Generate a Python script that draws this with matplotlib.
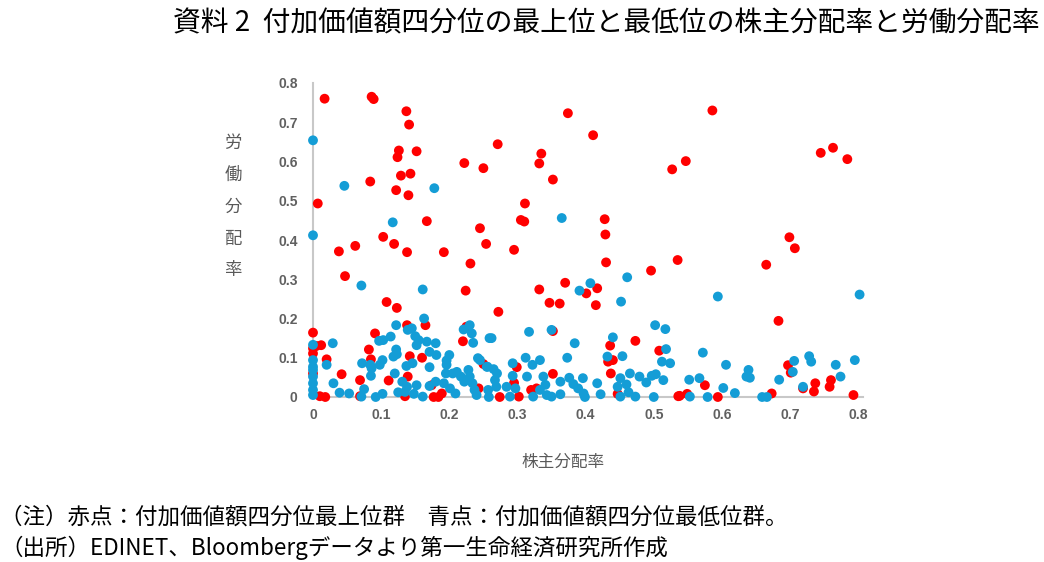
import matplotlib
matplotlib.use("Agg")
import matplotlib.pyplot as plt

# 株主分配率 (x), 労働分配率 (y)
red_x = [0.017,0.086,0.089,0.137,0.141,0.126,0.124,0.152,0.222,0.250,0.084,0.129,0.143,0.122,0.140,0.007,0.167,0.245,0.103,
         0.374,0.411,0.271,0.335,0.332,0.527,0.352,0.311,0.305,0.310,0.428,0.429,
         0.586,0.547,0.745,0.763,0.784,0.699,
         0.119,0.062,0.038,0.138,0.192,0.254,0.231,0.047,0.224,0.108,0.123,0.138,0.165,0.225,0.000,0.220,0.091,0.012,0.005,0.000,0.000,0.020,0.082,0.085,0.142,0.160,0.042,0.069,0.111,0.139,0.250,0.000,0.010,0.018,0.069,0.135,0.177,0.184,0.189,0.174,0.243,
         0.295,0.430,0.535,0.496,0.370,0.332,0.401,0.417,0.347,0.362,0.415,0.272,0.352,0.473,0.436,0.508,0.433,0.440,0.437,0.352,0.299,0.295,0.320,0.328,0.302,0.274,0.447,0.536,
         0.707,0.665,0.683,0.575,0.538,0.549,0.594,0.673,0.697,0.701,0.719,0.737,0.735,0.758,0.760,0.793]
red_y = [0.760,0.765,0.759,0.728,0.694,0.628,0.611,0.626,0.596,0.583,0.549,0.564,0.569,0.527,0.514,0.493,0.448,0.430,0.408,
         0.723,0.667,0.644,0.620,0.595,0.580,0.554,0.493,0.451,0.447,0.453,0.414,
         0.730,0.601,0.622,0.635,0.606,0.407,
         0.390,0.385,0.371,0.369,0.369,0.390,0.340,0.308,0.271,0.242,0.227,0.183,0.183,0.179,0.164,0.142,0.162,0.132,0.130,0.124,0.111,0.096,0.121,0.096,0.104,0.100,0.058,0.043,0.042,0.052,0.084,0.060,0.002,0.000,0.002,0.002,0.000,0.000,0.009,0.030,0.022,
         0.375,0.343,0.349,0.322,0.291,0.274,0.264,0.277,0.240,0.238,0.234,0.217,0.168,0.143,0.131,0.118,0.090,0.094,0.060,0.059,0.076,0.036,0.018,0.022,0.001,0.000,0.008,0.002,
         0.379,0.337,0.194,0.030,0.003,0.008,0.000,0.009,0.081,0.062,0.022,0.035,0.014,0.026,0.043,0.005]

blue_x = [0.000,0.046,0.178,0.117,0.000,0.365,
          0.071,0.161,0.163,0.122,0.139,0.145,0.150,0.155,0.114,0.097,0.103,0.029,0.000,0.167,0.152,0.180,0.122,0.123,0.118,0.171,0.181,0.200,0.196,0.196,
          0.000,0.000,0.000,0.000,0.000,0.000,0.000,
          0.020,0.072,0.084,0.086,0.085,0.098,0.102,0.137,0.146,0.171,0.120,0.131,0.030,0.039,0.053,0.075,0.071,0.092,0.102,0.125,0.135,0.138,0.152,0.148,0.161,0.171,0.180,0.192,0.201,0.209,
          0.195,0.205,0.211,0.217,0.222,0.228,0.230,0.234,0.237,0.240,
          0.221,0.230,0.233,0.235,0.242,0.256,0.259,0.258,
          0.461,0.407,0.391,0.452,0.502,0.517,0.262,0.317,0.350,0.384,0.440,0.518,0.373,0.312,0.322,0.333,0.432,0.454,0.512,0.524,
          0.245,0.255,0.265,0.270,0.267,0.269,0.257,
          0.293,0.293,0.284,0.297,0.289,
          0.314,0.338,0.341,0.333,0.323,0.343,0.350,0.363,0.363,
          0.376,0.382,0.389,0.397,0.399,0.396,0.417,0.422,
          0.451,0.447,0.460,0.465,0.451,0.463,0.473,
          0.479,0.489,0.497,0.503,0.514,0.500,
          0.594,0.802,0.572,0.606,0.552,0.567,0.553,0.579,0.602,0.619,0.636,0.641,0.639,0.659,0.666,0.684,0.706,0.704,0.719,0.728,0.731,0.767,0.774,0.795]
blue_y = [0.654,0.538,0.532,0.445,0.412,0.456,
          0.284,0.274,0.200,0.183,0.171,0.175,0.155,0.145,0.154,0.143,0.145,0.137,0.133,0.141,0.132,0.137,0.121,0.109,0.103,0.115,0.107,0.107,0.093,0.082,
          0.094,0.077,0.069,0.052,0.035,0.018,0.005,
          0.082,0.086,0.082,0.073,0.054,0.082,0.094,0.079,0.086,0.076,0.060,0.039,0.035,0.011,0.009,0.020,0.001,0.000,0.008,0.012,0.013,0.026,0.030,0.008,0.001,0.028,0.039,0.035,0.022,0.009,
          0.060,0.060,0.064,0.052,0.039,0.069,0.052,0.035,0.018,0.005,
          0.172,0.183,0.162,0.138,0.099,0.077,0.150,0.000,
          0.305,0.290,0.271,0.243,0.183,0.173,0.150,0.166,0.171,0.137,0.152,0.122,0.100,0.100,0.082,0.094,0.103,0.104,0.090,0.086,
          0.094,0.077,0.071,0.060,0.043,0.026,0.018,
          0.086,0.054,0.026,0.022,0.001,
          0.052,0.052,0.031,0.018,0.001,0.005,0.001,0.007,0.039,
          0.049,0.033,0.022,0.009,0.000,0.048,0.035,0.007,
          0.048,0.026,0.032,0.060,0.001,0.012,0.001,
          0.052,0.037,0.054,0.058,0.043,0.000,
          0.256,0.261,0.113,0.082,0.044,0.048,0.001,0.000,0.023,0.010,0.052,0.049,0.069,0.000,0.000,0.044,0.092,0.064,0.026,0.104,0.090,0.082,0.052,0.094]

x_ticks = [0, 0.1, 0.2, 0.3, 0.4, 0.5, 0.6, 0.7, 0.8]
x_ticklabels = ["0", "0.1", "0.2", "0.3", "0.4", "0.5", "0.6", "0.7", "0.8"]
y_ticks = [0, 0.1, 0.2, 0.3, 0.4, 0.5, 0.6, 0.7, 0.8]
y_ticklabels = ["0", "0.1", "0.2", "0.3", "0.4", "0.5", "0.6", "0.7", "0.8"]

title = "資料 2  付加価値額四分位の最上位と最低位の株主分配率と労働分配率"
xlabel = "株主分配率"
ylabel = "労働分配率"
note1 = "（注）赤点：付加価値額四分位最上位群　青点：付加価値額四分位最低位群。"
note2 = "（出所）EDINET、Bloombergデータより第一生命経済研究所作成"

plt.rcParams['font.family'] = ['Noto Sans CJK JP', 'DejaVu Sans']

W, H = 1044, 562
fig = plt.figure(figsize=(W/100, H/100), dpi=100)
ax = fig.add_axes([313/W, 1-397/H, (863-313)/W, (397-83)/H])

ax.scatter(red_x, red_y, s=50, color='#FF0000', edgecolors='none', zorder=3, clip_on=False)
ax.scatter(blue_x, blue_y, s=50, color='#149DD6', edgecolors='none', zorder=4, clip_on=False)

ax.set_xlim(0, 0.807)
ax.set_ylim(0, 0.8)
ax.set_xticks(x_ticks)
ax.set_xticklabels(x_ticklabels)
ax.set_yticks(y_ticks)
ax.set_yticklabels(y_ticklabels)
for lab in ax.get_xticklabels() + ax.get_yticklabels():
    lab.set_family(['Liberation Sans', 'DejaVu Sans'])
    lab.set_fontweight('bold')
    lab.set_color('#606060')
    lab.set_fontsize(10)
ax.tick_params(axis='both', length=0)
ax.tick_params(axis='y', pad=11)
ax.tick_params(axis='x', pad=8)
for s in ['top', 'right']:
    ax.spines[s].set_visible(False)
for s in ['left', 'bottom']:
    ax.spines[s].set_color('#C8C8C8')
    ax.spines[s].set_linewidth(1.5)

fig.text(1040/W, 1-23/H, title, fontsize=20, ha='right', va='center', color='black')
fig.text(563/W, 1-462/H, xlabel, fontsize=12, ha='center', va='center', color='#595959')
ys = [143, 175, 207, 239, 270]
for ch, yy in zip(ylabel, ys):
    fig.text(233/W, 1-yy/H, ch, fontsize=12.5, ha='center', va='center', color='#595959')
fig.text(0, 1-517/H, note1, fontsize=16.2, ha='left', va='center', color='black')
fig.text(0, 1-548/H, note2, fontsize=16.2, ha='left', va='center', color='black')

fig.savefig("out.png", dpi=100)
